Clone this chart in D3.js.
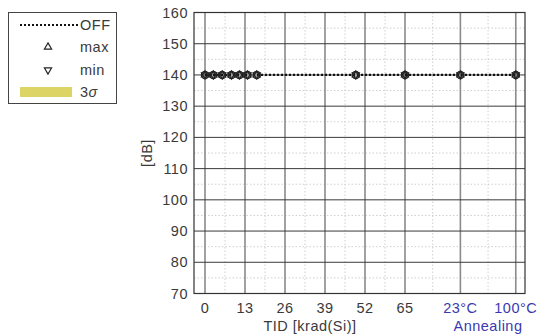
<!DOCTYPE html>
<html>
<head>
<meta charset="utf-8">
<script src="https://cdn.jsdelivr.net/npm/d3@7"></script>
<style>
  body { margin: 0; background: #fff; }
  text { font-family: "Liberation Sans", Arial, sans-serif; letter-spacing: 0.5px; }
</style>
</head>
<body>
<div id="chart"></div>
<script>
// x positions use a TID-like scale; the annealing steps sit past 65
const tickValues = [0, 13, 26, 39, 52, 65, 83, 101];
const tickLabels = ['0', '13', '26', '39', '52', '65', '23°C', '100°C'];
const tickBlue = [false, false, false, false, false, false, true, true];
const pointX = [0, 2.7, 5.6, 8.6, 11.2, 13.8, 16.8, 49, 65, 83, 101];
const pointOff = [140, 140, 140, 140, 140, 140, 140, 140, 140, 140, 140];
const pointMax = [140, 140, 140, 140, 140, 140, 140, 140, 140, 140, 140];
const pointMin = [140, 140, 140, 140, 140, 140, 140, 140, 140, 140, 140];
const yTicks = [70, 80, 90, 100, 110, 120, 130, 140, 150, 160];

const W = 541, H = 336;
const plot = { left: 194, right: 525, top: 12.5, bottom: 293.5 };
const blue = '#3a3ab0';
const txt = '#3a3a3a';
const fs = 14.5;

const svg = d3.select('#chart').append('svg').attr('width', W).attr('height', H);

const x = d3.scaleLinear().domain([0, 13]).range([205, 245]);
const y = d3.scaleLinear().domain([70, 160]).range([plot.bottom, plot.top]);

const g = svg.append('g');

// minor grid (dotted)
const minorX = [];
for (let i = 0; i < tickValues.length - 1; i++) minorX.push((tickValues[i] + tickValues[i + 1]) / 2);
g.selectAll('.mx').data(minorX).enter().append('line')
    .attr('x1', d => x(d)).attr('x2', d => x(d))
    .attr('y1', plot.top).attr('y2', plot.bottom)
    .attr('stroke', '#cfcfcf').attr('stroke-dasharray', '1.5,2');
g.selectAll('.my').data(yTicks.slice(0, -1).map(v => v + 5)).enter().append('line')
    .attr('x1', plot.left).attr('x2', plot.right)
    .attr('y1', d => y(d)).attr('y2', d => y(d))
    .attr('stroke', '#cfcfcf').attr('stroke-dasharray', '1.5,2');

// major grid
g.selectAll('.gx').data(tickValues).enter().append('line')
    .attr('x1', d => x(d)).attr('x2', d => x(d))
    .attr('y1', plot.top).attr('y2', plot.bottom)
    .attr('stroke', '#8a8a8a').attr('stroke-width', 1.6);
g.selectAll('.gy').data(yTicks).enter().append('line')
    .attr('x1', plot.left).attr('x2', plot.right)
    .attr('y1', d => y(d)).attr('y2', d => y(d))
    .attr('stroke', '#3a3a3a').attr('stroke-width', 1);

// box
svg.append('rect')
    .attr('x', plot.left).attr('y', plot.top)
    .attr('width', plot.right - plot.left).attr('height', plot.bottom - plot.top)
    .attr('fill', 'none').attr('stroke', '#333').attr('stroke-width', 1.2);

// y tick labels
svg.selectAll('.yl').data(yTicks).enter().append('text')
    .attr('x', 188).attr('y', d => y(d)).attr('dy', '0.35em')
    .attr('text-anchor', 'end').attr('font-size', fs).attr('fill', txt)
    .text(d => d);

// x tick labels
svg.selectAll('.xl').data(tickValues).enter().append('text')
    .attr('x', d => x(d)).attr('y', 313)
    .attr('text-anchor', 'middle').attr('font-size', fs)
    .attr('fill', (d, i) => tickBlue[i] ? blue : txt)
    .text((d, i) => tickLabels[i]);

svg.append('text').attr('x', 310).attr('y', 331)
    .attr('text-anchor', 'middle').attr('font-size', fs).attr('fill', txt)
    .text('TID [krad(Si)]');
svg.append('text').attr('x', 488).attr('y', 331)
    .attr('text-anchor', 'middle').attr('font-size', fs).attr('fill', blue)
    .text('Annealing');
svg.append('text')
    .attr('transform', 'translate(152,153) rotate(-90)')
    .attr('text-anchor', 'middle').attr('font-size', fs).attr('fill', txt)
    .text('[dB]');

// OFF line
const line = d3.line().x((d, i) => x(pointX[i])).y(d => y(d));
svg.append('path').datum(pointOff)
    .attr('d', line).attr('fill', 'none')
    .attr('stroke', '#111').attr('stroke-width', 2.2).attr('stroke-dasharray', '2,2');

const tri = d3.symbol().type(d3.symbolTriangle).size(22);
svg.selectAll('.mxp').data(pointMax).enter().append('path')
    .attr('d', tri)
    .attr('transform', (d, i) => `translate(${x(pointX[i])},${y(d)})`)
    .attr('fill', 'none').attr('stroke', '#222').attr('stroke-width', 1.2);
svg.selectAll('.mnp').data(pointMin).enter().append('path')
    .attr('d', tri)
    .attr('transform', (d, i) => `translate(${x(pointX[i])},${y(d)}) rotate(180)`)
    .attr('fill', 'none').attr('stroke', '#222').attr('stroke-width', 1.2);
svg.selectAll('.op').data(pointOff).enter().append('circle')
    .attr('cx', (d, i) => x(pointX[i])).attr('cy', d => y(d)).attr('r', 3.6)
    .attr('fill', 'none').attr('stroke', '#222').attr('stroke-width', 1.3);

// legend
const lg = svg.append('g');
lg.append('rect').attr('x', 8.5).attr('y', 12.5).attr('width', 108).attr('height', 91)
    .attr('fill', '#fff').attr('stroke', '#444').attr('stroke-width', 1);
lg.append('line').attr('x1', 20).attr('x2', 78).attr('y1', 25).attr('y2', 25)
    .attr('stroke', '#111').attr('stroke-width', 2.2).attr('stroke-dasharray', '2,2');
lg.append('text').attr('x', 80).attr('y', 25).attr('dy', '0.35em').attr('font-size', fs).attr('fill', txt).text('OFF');
lg.append('path').attr('d', tri).attr('transform', 'translate(48,47)')
    .attr('fill', 'none').attr('stroke', '#222').attr('stroke-width', 1.2);
lg.append('text').attr('x', 80).attr('y', 47).attr('dy', '0.35em').attr('font-size', fs).attr('fill', txt).text('max');
lg.append('path').attr('d', tri).attr('transform', 'translate(48,70) rotate(180)')
    .attr('fill', 'none').attr('stroke', '#222').attr('stroke-width', 1.2);
lg.append('text').attr('x', 80).attr('y', 70).attr('dy', '0.35em').attr('font-size', fs).attr('fill', txt).text('min');
lg.append('rect').attr('x', 20).attr('y', 87).attr('width', 52).attr('height', 10).attr('fill', '#dcd565');
const sig = lg.append('text').attr('x', 80).attr('y', 92).attr('dy', '0.35em').attr('font-size', fs).attr('fill', txt);
sig.append('tspan').text('3');
sig.append('tspan').attr('font-style', 'italic').text('σ');
</script>
</body>
</html>
